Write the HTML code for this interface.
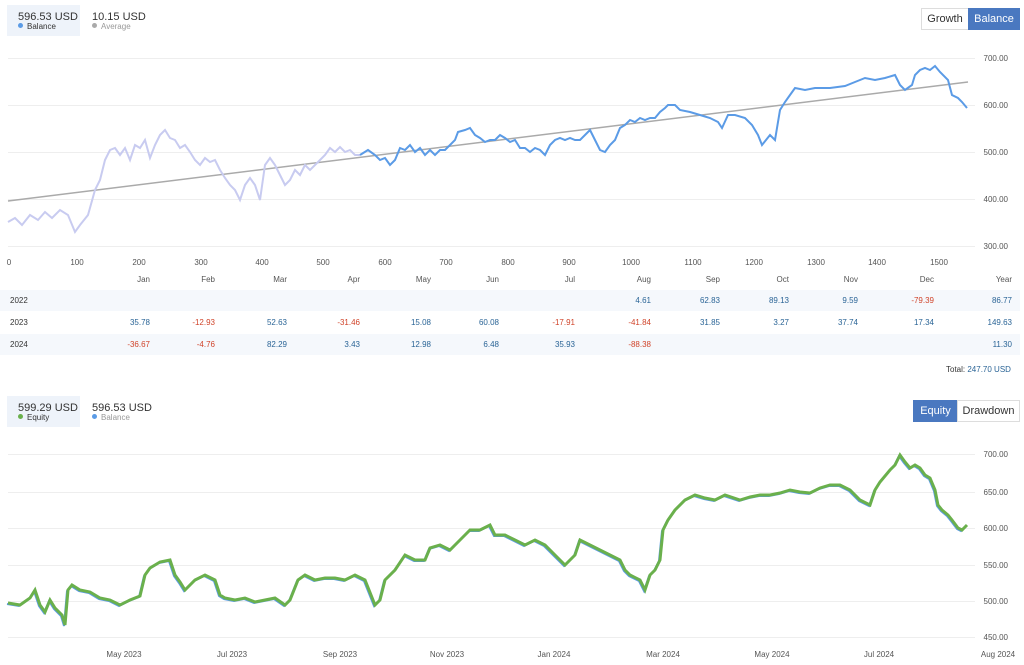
<!DOCTYPE html>
<html><head><meta charset="utf-8"><style>
body{margin:0;width:1024px;height:665px;background:#fff;font-family:"Liberation Sans",sans-serif;position:relative;overflow:hidden;color:#333}
.a{position:absolute;white-space:nowrap}
.box{position:absolute;background:#eef3fa}
.v{font-size:11px;color:#333}
.l{font-size:8px;color:#333}
.dot{display:inline-block;width:5px;height:5px;border-radius:50%;margin-right:4px;vertical-align:1px}
.btn{position:absolute;font-size:11px;border:1px solid #ddd;text-align:center;line-height:20px;height:20px}
.on{background:#4a78c0;color:#fff;border-color:#4a78c0}
.tl{font-size:8px;color:#555}
.r{position:absolute;font-size:8px;text-align:right;width:60px}
.bl{color:#2a6496}.rd{color:#d0442a}
</style></head><body>
<div class="box" style="left:7px;top:5px;width:73px;height:31px"></div>
<div class="a v" style="left:18px;top:11px">596.53 USD</div>
<div class="a l" style="left:18px;top:22px"><span class="dot" style="background:#5b9be6"></span>Balance</div>
<div class="a v" style="left:92px;top:11px">10.15 USD</div>
<div class="a l" style="left:92px;top:22px;color:#999"><span class="dot" style="background:#aaa"></span>Average</div>
<div class="btn" style="left:921px;top:8px;width:46px">Growth</div>
<div class="btn on" style="left:968px;top:8px;width:50px">Balance</div>

<svg class="a" style="left:0;top:0" width="1024" height="665">
<g stroke="#eee" stroke-width="1">
<line x1="8" x2="975" y1="58.5" y2="58.5"/><line x1="8" x2="975" y1="105.5" y2="105.5"/><line x1="8" x2="975" y1="152.5" y2="152.5"/><line x1="8" x2="975" y1="199.5" y2="199.5"/><line x1="8" x2="975" y1="246.5" y2="246.5"/>
<line x1="8" x2="975" y1="454.5" y2="454.5"/><line x1="8" x2="975" y1="492.5" y2="492.5"/><line x1="8" x2="975" y1="528.5" y2="528.5"/><line x1="8" x2="975" y1="565.5" y2="565.5"/><line x1="8" x2="975" y1="601.5" y2="601.5"/><line x1="8" x2="975" y1="637.5" y2="637.5"/>
</g>
<g font-size="8" fill="#555" text-anchor="end">
<text x="1008" y="61">700.00</text><text x="1008" y="108">600.00</text><text x="1008" y="155">500.00</text><text x="1008" y="202">400.00</text><text x="1008" y="249">300.00</text>
<text x="1008" y="457">700.00</text><text x="1008" y="495">650.00</text><text x="1008" y="531">600.00</text><text x="1008" y="568">550.00</text><text x="1008" y="604">500.00</text><text x="1008" y="640">450.00</text>
</g>
<g font-size="8" fill="#555" text-anchor="middle">
<text x="9" y="265">0</text><text x="77" y="265">100</text><text x="139" y="265">200</text><text x="201" y="265">300</text><text x="262" y="265">400</text><text x="323" y="265">500</text><text x="385" y="265">600</text><text x="446" y="265">700</text><text x="508" y="265">800</text><text x="569" y="265">900</text><text x="631" y="265">1000</text><text x="693" y="265">1100</text><text x="754" y="265">1200</text><text x="816" y="265">1300</text><text x="877" y="265">1400</text><text x="939" y="265">1500</text>
<text x="124" y="657">May 2023</text><text x="232" y="657">Jul 2023</text><text x="340" y="657">Sep 2023</text><text x="447" y="657">Nov 2023</text><text x="554" y="657">Jan 2024</text><text x="663" y="657">Mar 2024</text><text x="772" y="657">May 2024</text><text x="879" y="657">Jul 2024</text><text x="998" y="657">Aug 2024</text>
</g>
<line x1="8" y1="201" x2="968" y2="82" stroke="#aaa" stroke-width="1.5"/>
<polyline fill="none" stroke="#c8cbf0" stroke-width="2" points="8,222 15,218 22,225 30,215 38,220 45,212 52,218 60,210 68,215 75,232 80,225 88,215 95,190 100,180 105,160 110,150 115,148 120,155 125,148 130,160 135,145 140,148 145,140 150,158 155,145 160,135 165,130 170,138 175,140 180,148 185,145 190,152 195,160 200,165 205,158 210,162 215,160 220,170 225,178 230,185 235,190 240,200 245,185 250,178 255,185 260,200 265,165 270,158 275,165 280,175 285,185 290,180 295,170 300,175 305,165 310,170 315,165 320,160 325,155 330,148 335,152 340,147 345,152 350,150 355,155 360,155"/>
<polyline fill="none" stroke="#5b9be6" stroke-width="2" points="360,155 368,150 375,155 380,160 385,158 390,165 395,160 400,148 405,150 410,145 415,152 420,148 425,155 430,150 435,155 440,150 445,150 450,145 455,140 458,132 465,130 470,128 475,135 480,138 485,142 490,140 495,140 500,135 505,138 510,142 515,140 520,148 525,148 530,152 535,148 540,150 545,155 550,145 555,140 560,138 565,140 570,138 575,140 580,140 585,135 590,130 595,140 600,150 605,152 610,145 615,140 620,128 625,125 630,120 635,122 640,118 645,120 650,118 655,118 660,112 665,108 668,105 675,105 680,110 690,112 700,115 710,118 718,122 722,128 728,115 735,115 745,118 752,125 758,135 762,145 766,140 770,135 775,140 780,110 785,102 790,95 795,88 805,90 815,88 830,88 845,86 855,82 865,78 875,80 885,78 895,75 900,85 905,90 912,85 915,75 920,70 925,68 930,70 935,66 940,72 948,80 952,95 958,98 962,102 967,108"/>
<polyline fill="none" stroke="#5b9be6" stroke-width="2" transform="translate(-1,1)" points="8,603 20,605 30,598 35,590 40,605 45,612 50,600 55,608 62,615 65,625 68,590 72,585 80,590 90,592 100,598 110,600 120,605 130,600 140,596 145,575 150,568 160,562 170,560 175,575 180,582 185,590 195,580 205,575 215,580 220,595 225,598 235,600 245,598 255,602 265,600 275,598 285,605 290,600 298,580 305,575 315,580 325,578 335,578 345,580 355,575 365,580 375,605 380,600 385,580 395,570 405,555 415,560 425,560 430,548 440,545 450,550 460,540 470,530 480,530 490,525 495,535 505,535 515,540 525,545 535,540 545,545 555,555 565,565 575,555 580,540 590,545 600,550 610,555 620,560 625,570 630,575 640,580 645,590 650,575 655,570 660,560 663,530 668,520 675,510 685,500 695,495 705,498 715,500 725,495 740,500 750,497 760,495 770,495 780,493 790,490 800,492 810,493 820,488 830,485 840,485 850,490 860,500 870,505 875,490 880,482 890,470 895,465 900,455 905,462 910,468 915,465 920,468 925,475 930,478 935,490 938,505 942,510 948,515 952,520 958,528 962,530 967,525"/>
<polyline fill="none" stroke="#6ab04c" stroke-width="3" points="8,603 20,605 30,598 35,590 40,605 45,612 50,600 55,608 62,615 65,625 68,590 72,585 80,590 90,592 100,598 110,600 120,605 130,600 140,596 145,575 150,568 160,562 170,560 175,575 180,582 185,590 195,580 205,575 215,580 220,595 225,598 235,600 245,598 255,602 265,600 275,598 285,605 290,600 298,580 305,575 315,580 325,578 335,578 345,580 355,575 365,580 375,605 380,600 385,580 395,570 405,555 415,560 425,560 430,548 440,545 450,550 460,540 470,530 480,530 490,525 495,535 505,535 515,540 525,545 535,540 545,545 555,555 565,565 575,555 580,540 590,545 600,550 610,555 620,560 625,570 630,575 640,580 645,590 650,575 655,570 660,560 663,530 668,520 675,510 685,500 695,495 705,498 715,500 725,495 740,500 750,497 760,495 770,495 780,493 790,490 800,492 810,493 820,488 830,485 840,485 850,490 860,500 870,505 875,490 880,482 890,470 895,465 900,455 905,462 910,468 915,465 920,468 925,475 930,478 935,490 938,505 942,510 948,515 952,520 958,528 962,530 967,525"/>
</svg>

<div class="a" style="left:0;top:290px;width:1020px;height:21px;background:#f5f8fc"></div>
<div class="a" style="left:0;top:334px;width:1020px;height:21px;background:#f5f8fc"></div>
<div class="a tl" style="left:10px;top:296px;color:#333">2022</div>
<div class="a tl" style="left:10px;top:318px;color:#333">2023</div>
<div class="a tl" style="left:10px;top:340px;color:#333">2024</div>

<div class="r tl" style="left:90px;top:275px">Jan</div><div class="r tl" style="left:155px;top:275px">Feb</div><div class="r tl" style="left:227px;top:275px">Mar</div><div class="r tl" style="left:300px;top:275px">Apr</div><div class="r tl" style="left:371px;top:275px">May</div><div class="r tl" style="left:439px;top:275px">Jun</div><div class="r tl" style="left:515px;top:275px">Jul</div><div class="r tl" style="left:591px;top:275px">Aug</div><div class="r tl" style="left:660px;top:275px">Sep</div><div class="r tl" style="left:729px;top:275px">Oct</div><div class="r tl" style="left:798px;top:275px">Nov</div><div class="r tl" style="left:874px;top:275px">Dec</div><div class="r tl" style="left:952px;top:275px">Year</div>

<div class="r bl" style="left:591px;top:296px">4.61</div><div class="r bl" style="left:660px;top:296px">62.83</div><div class="r bl" style="left:729px;top:296px">89.13</div><div class="r bl" style="left:798px;top:296px">9.59</div><div class="r rd" style="left:874px;top:296px">-79.39</div><div class="r bl" style="left:952px;top:296px">86.77</div>

<div class="r bl" style="left:90px;top:318px">35.78</div><div class="r rd" style="left:155px;top:318px">-12.93</div><div class="r bl" style="left:227px;top:318px">52.63</div><div class="r rd" style="left:300px;top:318px">-31.46</div><div class="r bl" style="left:371px;top:318px">15.08</div><div class="r bl" style="left:439px;top:318px">60.08</div><div class="r rd" style="left:515px;top:318px">-17.91</div><div class="r rd" style="left:591px;top:318px">-41.84</div><div class="r bl" style="left:660px;top:318px">31.85</div><div class="r bl" style="left:729px;top:318px">3.27</div><div class="r bl" style="left:798px;top:318px">37.74</div><div class="r bl" style="left:874px;top:318px">17.34</div><div class="r bl" style="left:952px;top:318px">149.63</div>

<div class="r rd" style="left:90px;top:340px">-36.67</div><div class="r rd" style="left:155px;top:340px">-4.76</div><div class="r bl" style="left:227px;top:340px">82.29</div><div class="r bl" style="left:300px;top:340px">3.43</div><div class="r bl" style="left:371px;top:340px">12.98</div><div class="r bl" style="left:439px;top:340px">6.48</div><div class="r bl" style="left:515px;top:340px">35.93</div><div class="r rd" style="left:591px;top:340px">-88.38</div><div class="r bl" style="left:952px;top:340px">11.30</div>

<div class="a" style="left:946px;top:365px;font-size:8px;color:#333">Total: <span class="bl">247.70 USD</span></div>

<div class="box" style="left:7px;top:396px;width:73px;height:31px"></div>
<div class="a v" style="left:18px;top:402px">599.29 USD</div>
<div class="a l" style="left:18px;top:413px"><span class="dot" style="background:#6ab04c"></span>Equity</div>
<div class="a v" style="left:92px;top:402px">596.53 USD</div>
<div class="a l" style="left:92px;top:413px;color:#999"><span class="dot" style="background:#5b9be6"></span>Balance</div>
<div class="btn on" style="left:913px;top:400px;width:43px">Equity</div>
<div class="btn" style="left:957px;top:400px;width:61px">Drawdown</div>
</body></html>
